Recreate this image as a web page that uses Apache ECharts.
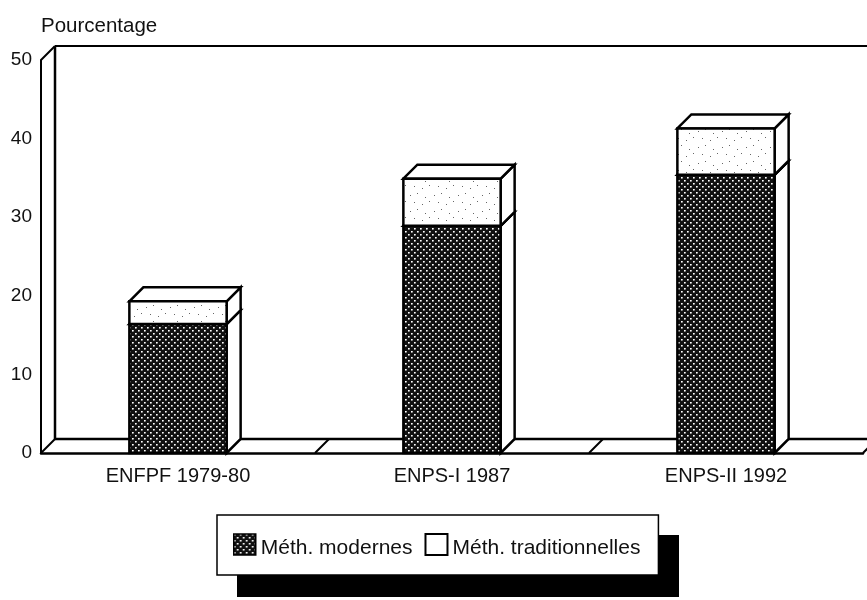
<!DOCTYPE html>
<html>
<head>
<meta charset="utf-8">
<title>Pourcentage</title>
<script src="https://cdn.jsdelivr.net/npm/echarts@6/dist/echarts.min.js"></script>
<style>
  html, body { margin: 0; background: #fff; }
  #chart { width: 867px; height: 600px; }
</style>
</head>
<body>
<div id="chart"></div>
<script>
var categories = ['ENFPF 1979-80', 'ENPS-I 1987', 'ENPS-II 1992'];
var modernValues = [16.4, 28.9, 35.4];
var traditionalValues = [2.9, 6.0, 5.9];
var yTicks = [0, 10, 20, 30, 40, 50];

var FONT = '"Liberation Sans", Arial, sans-serif';
var DEPTH = 14;       // decalage de la perspective
var BAR_RATIO = 0.355; // largeur de barre / largeur de bande

// trame sombre des methodes modernes
function darkPattern() {
  var c = document.createElement('canvas');
  c.width = 6;
  c.height = 6;
  var g = c.getContext('2d');
  g.fillStyle = '#111111';
  g.fillRect(0, 0, 6, 6);
  [[0, 0], [3, 3]].forEach(function (p) {
    g.fillStyle = '#ffffff';
    g.fillRect(p[0], p[1], 1, 1);
    g.fillStyle = '#bbbbbb';
    g.fillRect(p[0] + 1, p[1], 1, 1);
    g.fillStyle = '#999999';
    g.fillRect(p[0], p[1] + 1, 1, 1);
    g.fillStyle = '#666666';
    g.fillRect(p[0] + 1, p[1] + 1, 1, 1);
  });
  return { image: c, repeat: 'repeat' };
}

// trame claire des methodes traditionnelles
function lightPattern() {
  var c = document.createElement('canvas');
  c.width = 24;
  c.height = 16;
  var g = c.getContext('2d');
  g.fillStyle = '#ffffff';
  g.fillRect(0, 0, 24, 16);
  g.fillStyle = '#666666';
  [[2, 3], [9, 1], [17, 5], [6, 10], [14, 12], [21, 9]].forEach(function (p) {
    g.fillRect(p[0], p[1], 1, 1);
  });
  return { image: c, repeat: 'repeat' };
}

var darkFill = darkPattern();
var lightFill = lightPattern();

function line(x1, y1, x2, y2, width) {
  return {
    type: 'line',
    shape: { x1: x1, y1: y1, x2: x2, y2: y2 },
    style: { stroke: '#000', lineWidth: width || 2, fill: null }
  };
}

function poly(points, fill) {
  return {
    type: 'polygon',
    shape: { points: points },
    style: { fill: fill, stroke: '#000', lineWidth: 2.5, lineJoin: 'miter' }
  };
}

// cadre : mur du fond et plancher, un panneau par categorie
function renderFrame(params, api) {
  var cs = params.coordSys;
  var band = api.size([1, 0])[0];
  var i = params.dataIndex;
  var left = cs.x + i * band;
  var right = left + band;
  var bottom = cs.y + cs.height;
  var children = [
    line(left + DEPTH, bottom - DEPTH, right + DEPTH, bottom - DEPTH, 2.5),
    line(right, bottom, right + DEPTH, bottom - DEPTH)
  ];
  if (i === 0) {
    children.push(
      line(cs.x, bottom, cs.x + DEPTH, bottom - DEPTH),
      line(cs.x, cs.y, cs.x + DEPTH, cs.y - DEPTH),
      line(cs.x + DEPTH, cs.y - DEPTH, cs.x + DEPTH, bottom - DEPTH, 2.5),
      line(cs.x + DEPTH, cs.y - DEPTH, cs.x + cs.width + DEPTH, cs.y - DEPTH)
    );
  }
  return { type: 'group', children: children };
}

// segment de barre en perspective, de la valeur 1 a la valeur 2
function renderSegment(fill) {
  return function (params, api) {
    var i = api.value(0);
    var base = api.coord([i, api.value(1)]);
    var top = api.coord([i, api.value(2)]);
    var half = api.size([1, 0])[0] * BAR_RATIO / 2;
    var x0 = base[0] - half;
    var x1 = base[0] + half;
    return {
      type: 'group',
      children: [
        poly([[x1, base[1]], [x1 + DEPTH, base[1] - DEPTH], [x1 + DEPTH, top[1] - DEPTH], [x1, top[1]]], '#fff'),
        poly([[x0, top[1]], [x0 + DEPTH, top[1] - DEPTH], [x1 + DEPTH, top[1] - DEPTH], [x1, top[1]]], '#fff'),
        poly([[x0, base[1]], [x1, base[1]], [x1, top[1]], [x0, top[1]]], fill)
      ]
    };
  };
}

var modernData = modernValues.map(function (v, i) {
  return [i, 0, v];
});
var traditionalData = traditionalValues.map(function (v, i) {
  return [i, modernValues[i], modernValues[i] + v];
});

var chart = echarts.init(document.getElementById('chart'));
chart.setOption({
  animation: false,
  backgroundColor: '#fff',
  textStyle: { fontFamily: FONT },
  grid: { left: 41, top: 60, width: 822, height: 393 },
  // ombre noire de la legende
  graphic: [{
    type: 'rect',
    left: 237,
    top: 535,
    z: 0,
    silent: true,
    shape: { width: 442, height: 62 },
    style: { fill: '#000' }
  }],
  legend: {
    left: 217,
    top: 515,
    orient: 'horizontal',
    padding: [18, 18, 16, 16],
    itemWidth: 22,
    itemHeight: 21,
    itemGap: 12,
    backgroundColor: '#fff',
    borderColor: '#000',
    borderWidth: 1.5,
    borderRadius: 0,
    formatter: '{a|{name}}',
    textStyle: {
      rich: { a: { fontFamily: FONT, fontSize: 21, color: '#111', padding: [8, 0, 0, 0] } }
    },
    data: [
      { name: 'Méth. modernes', icon: 'rect', itemStyle: { color: darkFill, borderColor: '#000', borderWidth: 1.5 } },
      { name: 'Méth. traditionnelles', icon: 'rect', itemStyle: { color: '#fff', borderColor: '#000', borderWidth: 2 } }
    ]
  },
  xAxis: {
    type: 'category',
    data: categories,
    axisTick: { show: false },
    axisLine: { lineStyle: { color: '#000', width: 2.5 } },
    axisLabel: { color: '#111', fontSize: 20, margin: 13, fontFamily: FONT }
  },
  yAxis: {
    type: 'value',
    min: yTicks[0],
    max: yTicks[yTicks.length - 1],
    interval: yTicks[1] - yTicks[0],
    name: 'Pourcentage',
    nameGap: 23,
    nameTextStyle: { color: '#111', fontSize: 20.5, align: 'left', fontFamily: FONT },
    splitLine: { show: false },
    axisTick: { show: false },
    axisLine: { show: true, lineStyle: { color: '#000', width: 2 } },
    axisLabel: { color: '#111', fontSize: 19, margin: 9, fontFamily: FONT }
  },
  series: [
    {
      type: 'custom',
      name: 'cadre',
      renderItem: renderFrame,
      data: categories.map(function (c, i) { return [i]; }),
      encode: { x: 0 },
      silent: true,
      z: 1
    },
    {
      type: 'custom',
      name: 'Méth. modernes',
      renderItem: renderSegment(darkFill),
      data: modernData,
      encode: { x: 0, y: [1, 2] },
      itemStyle: { color: darkFill },
      z: 2
    },
    {
      type: 'custom',
      name: 'Méth. traditionnelles',
      renderItem: renderSegment(lightFill),
      data: traditionalData,
      encode: { x: 0, y: [1, 2] },
      itemStyle: { color: '#fff' },
      z: 3
    }
  ]
});
</script>
</body>
</html>
